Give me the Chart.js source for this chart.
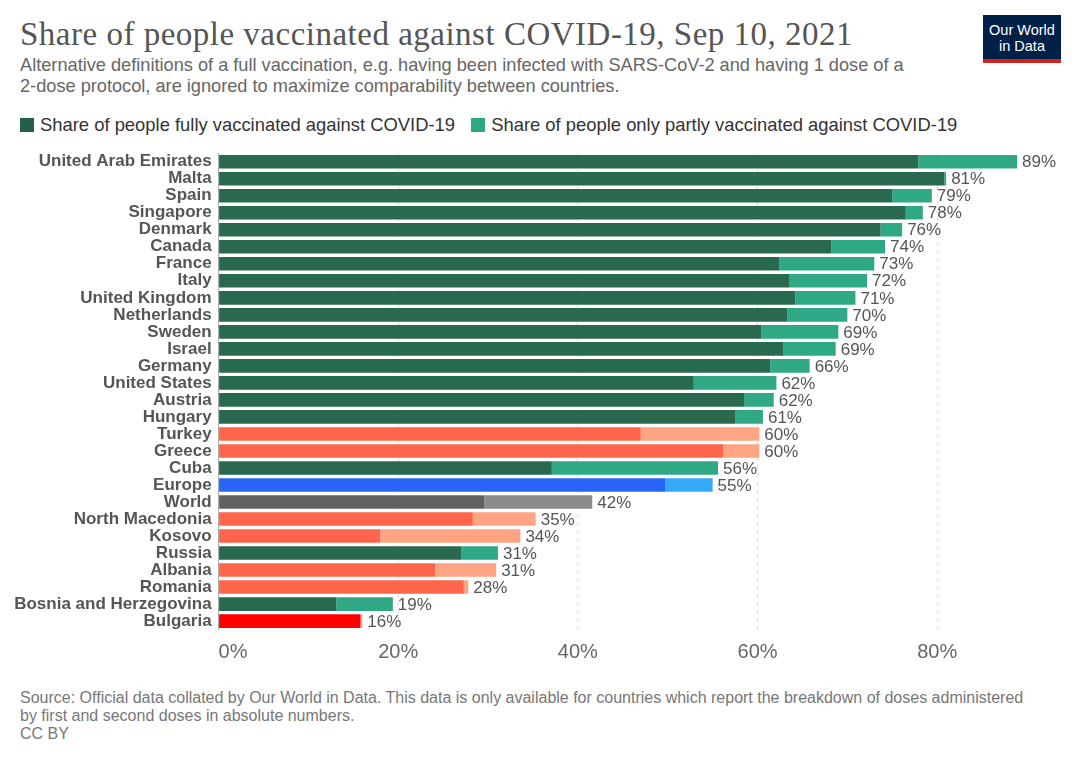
<!DOCTYPE html>
<html>
<head>
<meta charset="utf-8">
<script src="https://cdn.jsdelivr.net/npm/chart.js@4.4.0/dist/chart.umd.min.js"></script>
<style>
  body { margin: 0; background: #fff; }
  #page { position: relative; width: 1080px; height: 762px; overflow: hidden; font-family: "Liberation Sans", Arial, sans-serif; }
  #title { position: absolute; left: 20px; top: 16px; font-family: "Liberation Serif", serif; font-size: 33px; letter-spacing: 0.5px; color: #555; white-space: nowrap; }
  #subtitle { position: absolute; left: 20px; top: 55px; font-size: 18.2px; line-height: 21px; color: #666; white-space: nowrap; }
  #legend { position: absolute; left: 20px; top: 114px; font-size: 18.4px; color: #333; white-space: nowrap; }
  #legend span.sq { display: inline-block; width: 14px; height: 14px; vertical-align: -1px; margin-right: 6px; }
  #legend span.item { margin-right: 11px; }
  #logo { position: absolute; left: 983px; top: 15px; width: 78px; height: 48px; background: #002147; border-bottom: 4px solid #ce261e; box-sizing: border-box; color: #fff; font-size: 14.5px; line-height: 16px; text-align: center; padding-top: 7px; }
  #wrap { position: absolute; left: 0; top: 136px; width: 1080px; height: 539px; }
  #footer { position: absolute; left: 20px; top: 689px; font-size: 16px; line-height: 18px; color: #777; white-space: nowrap; }
</style>
</head>
<body>
<div id="page">
  <div id="title">Share of people vaccinated against COVID-19, Sep 10, 2021</div>
  <div id="subtitle">Alternative definitions of a full vaccination, e.g. having been infected with SARS-CoV-2 and having 1 dose of a<br>2-dose protocol, are ignored to maximize comparability between countries.</div>
  <div id="legend">
    <span class="item"><span class="sq" style="background:#22604a"></span>Share of people fully vaccinated against COVID-19</span>
    <span class="item"><span class="sq" style="background:#2ea884"></span>Share of people only partly vaccinated against COVID-19</span>
  </div>
  <div id="logo">Our World<br>in Data</div>
  <div id="wrap"><canvas id="chart"></canvas></div>
  <div id="footer">Source: Official data collated by Our World in Data. This data is only available for countries which report the breakdown of doses administered<br>by first and second doses in absolute numbers.<br>CC BY</div>
</div>
<script>
const countries = ['United Arab Emirates', 'Malta', 'Spain', 'Singapore', 'Denmark', 'Canada', 'France', 'Italy',
  'United Kingdom', 'Netherlands', 'Sweden', 'Israel', 'Germany', 'United States', 'Austria', 'Hungary',
  'Turkey', 'Greece', 'Cuba', 'Europe', 'World', 'North Macedonia', 'Kosovo', 'Russia', 'Albania',
  'Romania', 'Bosnia and Herzegovina', 'Bulgaria'];

// fully vaccinated (%)
const fully = [77.9, 80.8, 75.0, 76.5, 73.7, 68.2, 62.4, 63.5, 64.2, 63.3, 60.4, 62.9, 61.4, 52.9, 58.5, 57.5,
  47.0, 56.2, 37.1, 49.7, 29.6, 28.3, 18.0, 27.0, 24.1, 27.3, 13.1, 15.8];

// only partly vaccinated (%)
const partly = [11.0, 0.2, 4.4, 1.9, 2.4, 6.0, 10.6, 8.7, 6.7, 6.7, 8.6, 5.8, 4.4, 9.2, 3.3, 3.1,
  13.2, 4.0, 18.5, 5.3, 12.0, 7.0, 15.6, 4.1, 6.8, 0.5, 6.3, 0.2];

const xTicks = [0, 20, 40, 60, 80];

// colour groups
const redOnes = ['Turkey', 'Greece', 'North Macedonia', 'Kosovo', 'Albania', 'Romania'];
function colorFor(name, part) {
  if (name === 'Bulgaria') return part ? '#ffa88a' : '#ff0000';
  if (name === 'Europe') return part ? '#33a9f7' : '#2864f5';
  if (name === 'World') return part ? '#8b8b8b' : '#616161';
  if (redOnes.includes(name)) return part ? '#ffa583' : '#ff654b';
  return part ? '#2fa886' : '#28694f';
}

const totalLabels = {
  id: 'totalLabels',
  afterDatasetsDraw(chart) {
    const c = chart.ctx;
    const meta = chart.getDatasetMeta(1);
    c.save();
    c.font = '17px "Liberation Sans", Arial, sans-serif';
    c.fillStyle = '#555';
    c.textAlign = 'left';
    c.textBaseline = 'middle';
    meta.data.forEach((bar, i) => {
      const tot = Math.round(fully[i] + partly[i]);
      c.fillText(tot + '%', bar.x + 5, bar.y + 1);
    });
    c.restore();
  }
};

const ctx = document.querySelector('#chart').getContext('2d');
const chart = new Chart(ctx, {
  type: 'bar',
  data: {
    labels: countries,
    datasets: [{
      label: 'Share of people fully vaccinated against COVID-19',
      data: fully,
      backgroundColor: countries.map(n => colorFor(n, false)),
      barPercentage: 0.8,
      categoryPercentage: 1
    }, {
      label: 'Share of people only partly vaccinated against COVID-19',
      data: partly,
      backgroundColor: countries.map(n => colorFor(n, true)),
      barPercentage: 0.8,
      categoryPercentage: 1
    }]
  },
  options: {
    indexAxis: 'y',
    responsive: true,
    maintainAspectRatio: false,
    animation: false,
    layout: { padding: { top: 6.5, right: 53, left: 0, bottom: 0 } },
    scales: {
      x: {
        stacked: true,
        min: 0,
        max: 90,
        afterBuildTicks: s => { s.ticks = s.ticks.filter(t => xTicks.includes(t.value) || t.value === 90); },
        afterFit: s => { s.height = 45.4; },
        ticks: {
          stepSize: 20,
          align: 'inner',
          padding: 11,
          color: '#666',
          font: { family: '"Liberation Sans", Arial, sans-serif', size: 20 },
          callback: v => xTicks.includes(v) ? v + '%' : ''
        },
        grid: {
          drawTicks: false,
          color: c => (c.tick && (c.tick.value === 0 || c.tick.value === 90)) ? 'rgba(0,0,0,0)' : '#dddddd'
        },
        border: { display: false, dash: [4, 4] }
      },
      y: {
        stacked: true,
        afterFit: s => { s.width = 218.6; },
        ticks: {
          padding: 7,
          color: '#555',
          autoSkip: false,
          font: { family: '"Liberation Sans", Arial, sans-serif', size: 17, weight: 'bold' }
        },
        grid: { display: false, drawTicks: false },
        border: { display: true, color: '#aaaaaa', width: 1 }
      }
    },
    plugins: {
      legend: { display: false },
      tooltip: { enabled: false }
    }
  },
  plugins: [totalLabels]
});
</script>
</body>
</html>
